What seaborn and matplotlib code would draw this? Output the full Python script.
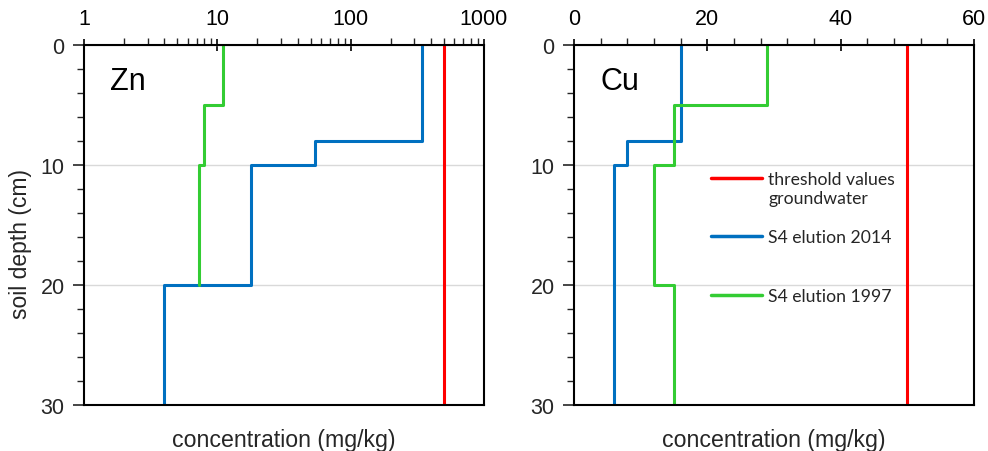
import numpy as np
import pandas as pd
import matplotlib
matplotlib.use("Agg")
import matplotlib.pyplot as plt
from matplotlib.ticker import MultipleLocator, LogLocator, NullFormatter, FixedLocator
import seaborn as sns

sns.set_theme(style="white")
plt.rcParams['font.family'] = ['Liberation Sans', 'DejaVu Sans']

# ---- data ----
zn_2014_bounds = [0, 8, 10, 20, 30]
zn_2014_vals = [340, 54, 18, 4]
zn_1997_bounds = [0, 5, 10, 20]
zn_1997_vals = [11, 8, 7.3]
zn_threshold = 500

cu_2014_bounds = [0, 8, 10, 30]
cu_2014_vals = [16, 8, 6]
cu_1997_bounds = [0, 5, 10, 20, 30]
cu_1997_vals = [29, 15, 12, 15]
cu_threshold = 50

depth_range = [0, 30]
series_names = ["threshold values\ngroundwater", "S4 elution 2014", "S4 elution 1997"]
colors = {"threshold values\ngroundwater": "#FF0000",
          "S4 elution 2014": "#0070C0",
          "S4 elution 1997": "#33CC33"}


def step_profile(bounds, vals, name):
    xs, ys = [], []
    for i, v in enumerate(vals):
        xs += [v, v]
        ys += [bounds[i], bounds[i + 1]]
    return pd.DataFrame({"conc": xs, "depth": ys, "series": name})


def build(th, b14, v14, b97, v97):
    return pd.concat([
        step_profile(depth_range, [th], series_names[0]),
        step_profile(b14, v14, series_names[1]),
        step_profile(b97, v97, series_names[2]),
    ], ignore_index=True)


zn_df = build(zn_threshold, zn_2014_bounds, zn_2014_vals, zn_1997_bounds, zn_1997_vals)
cu_df = build(cu_threshold, cu_2014_bounds, cu_2014_vals, cu_1997_bounds, cu_1997_vals)

fig = plt.figure(figsize=(9.88, 4.52), dpi=100)
ax1 = fig.add_axes([84 / 988, 46 / 452, 400 / 988, 360 / 452])
ax2 = fig.add_axes([574 / 988, 46 / 452, 400 / 988, 360 / 452])

for ax, df in [(ax1, zn_df), (ax2, cu_df)]:
    for name in series_names:
        sub = df[df.series == name]
        sns.lineplot(data=sub, x="conc", y="depth", sort=False, estimator=None,
                     color=colors[name], linewidth=2.2, ax=ax, label=name,
                     legend=False)

# Zn axis
ax1.set_xscale("log")
ax1.set_xlim(1, 1000)
ax1.xaxis.set_major_locator(FixedLocator([1, 10, 100, 1000]))
ax1.xaxis.set_minor_locator(LogLocator(base=10, subs=np.arange(2, 10)))
ax1.xaxis.set_minor_formatter(NullFormatter())
ax1.set_xticklabels(["1", "10", "100", "1000"])

# Cu axis
ax2.set_xlim(0, 60)
ax2.xaxis.set_major_locator(MultipleLocator(20))
ax2.xaxis.set_minor_locator(MultipleLocator(4))

for ax, lab in [(ax1, "Zn"), (ax2, "Cu")]:
    ax.set_ylim(30, 0)
    ax.yaxis.set_major_locator(MultipleLocator(10))
    ax.yaxis.set_minor_locator(MultipleLocator(2))
    ax.xaxis.tick_top()
    ax.tick_params(axis="x", which="major", direction="inout", length=9, width=1.2,
                   labelsize=15.5, pad=7, top=True, bottom=False, colors="black")
    ax.tick_params(axis="x", which="minor", direction="out", length=5, width=1,
                   top=True, bottom=False)
    ax.tick_params(axis="y", which="major", direction="out", length=8, width=1.2,
                   labelsize=15.5, pad=6, left=True)
    ax.tick_params(axis="y", which="minor", direction="out", length=5, width=1,
                   left=True)
    ax.grid(False)
    ax.yaxis.grid(True, which="major", color="#d9d9d9", linewidth=1)
    ax.set_axisbelow(True)
    for s in ax.spines.values():
        s.set_visible(True)
        s.set_color("black")
        s.set_linewidth(1.5)
    ax.set_xlabel("concentration (mg/kg)", fontsize=16.7)
    ax.xaxis.set_label_position("bottom")
    ax.xaxis.set_label_coords(0.5, -0.065)
    ax.xaxis.label.set_va("top")
    ax.text(0.065, 0.9, lab, transform=ax.transAxes, fontsize=22,
            ha="left", va="center", color="black")

ax1.set_ylabel("soil depth (cm)", fontsize=16.5)
ax1.yaxis.label.set_va("center")
ax1.yaxis.set_label_coords(-0.16, 0.45)
ax2.set_ylabel("")

handles, labels = ax2.get_legend_handles_labels()
labels = [labels[0], labels[1] + "\n ", labels[2]]
leg = ax2.legend(handles, labels, loc="upper left", bbox_to_anchor=(0.3425, 0.65),
                 frameon=False, handlelength=2.9, handletextpad=0.34,
                 borderpad=0, borderaxespad=0,
                 labelspacing=1.35, prop={"family": "Lato", "size": 12.7})
lines = leg.get_lines()
for line in lines:
    line.set_linewidth(2.5)
for i in (0, 1):
    y = np.asarray(lines[i].get_ydata(), dtype=float)
    lines[i].set_ydata(y + 7.6)

fig.savefig("out.png", dpi=100, facecolor="white")
